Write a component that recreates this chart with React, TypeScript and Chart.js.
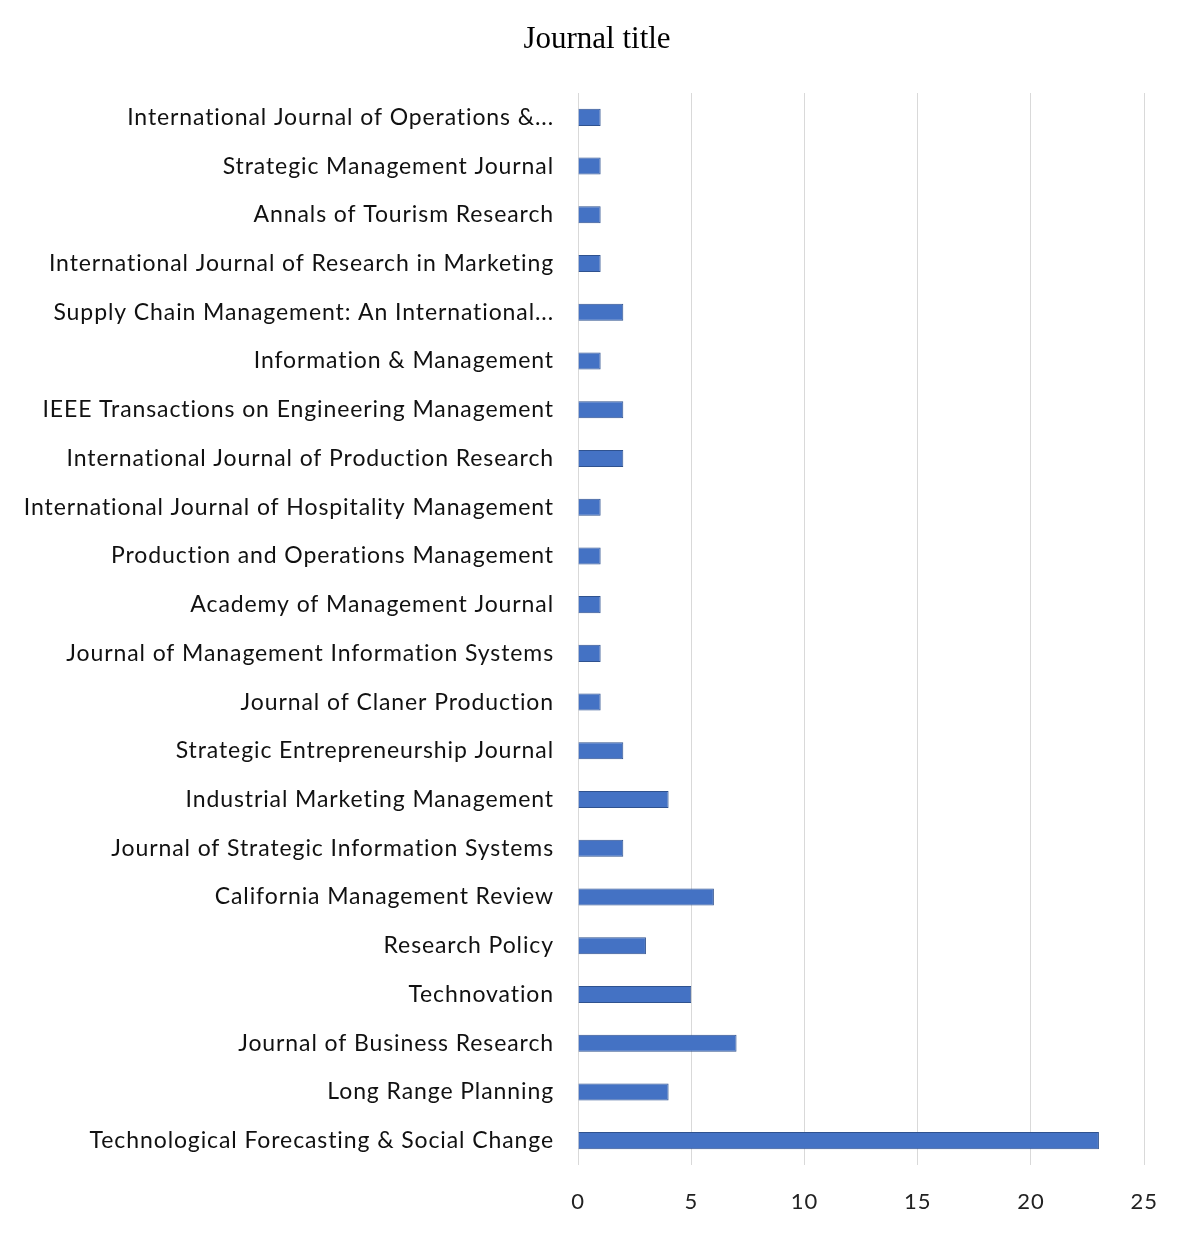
import React, { useEffect, useRef } from "react";
import { Chart, registerables } from "chart.js";

Chart.register(...registerables);

const categories: string[] = [
  "International Journal of Operations &...",
  "Strategic Management Journal",
  "Annals of Tourism Research",
  "International Journal of Research in Marketing",
  "Supply Chain Management: An International...",
  "Information & Management",
  "IEEE Transactions on Engineering Management",
  "International Journal of Production Research",
  "International Journal of Hospitality Management",
  "Production and Operations Management",
  "Academy of Management Journal",
  "Journal of Management Information Systems",
  "Journal of Claner Production",
  "Strategic Entrepreneurship Journal",
  "Industrial Marketing Management",
  "Journal of Strategic Information Systems",
  "California Management Review",
  "Research Policy",
  "Technovation",
  "Journal of Business Research",
  "Long Range Planning",
  "Technological Forecasting & Social Change",
];

const counts: number[] = [1, 1, 1, 1, 2, 1, 2, 2, 1, 1, 1, 1, 1, 2, 4, 2, 6, 3, 5, 7, 4, 23];

const xTicks: number[] = [0, 5, 10, 15, 20, 25];

const chartTitle = "Journal title";

const titlePlugin = {
  id: "customTitle",
  beforeDraw(chart: any) {
    const ctx = chart.ctx;
    (ctx as any).letterSpacing = "0.9px";
  },
  afterDraw(chart: any) {
    const ctx = chart.ctx;
    ctx.save();
    (ctx as any).letterSpacing = "0px";
    ctx.font = "31px 'Liberation Serif', serif";
    ctx.fillStyle = "#000";
    ctx.textAlign = "center";
    ctx.textBaseline = "middle";
    ctx.fillText(chartTitle, 597, 40);
    ctx.restore();
  },
};

export default function App() {
  const ref = useRef<HTMLCanvasElement | null>(null);

  useEffect(() => {
    if (!ref.current) return;
    const chart = new Chart(ref.current, {
      type: "bar",
      data: {
        labels: categories,
        datasets: [
          {
            data: counts,
            backgroundColor: "#4472C4",
            borderColor: "#2F528F",
            borderWidth: 1,
            categoryPercentage: 1,
            barPercentage: 0.35,
          },
        ],
      },
      plugins: [titlePlugin],
      options: {
        indexAxis: "y",
        responsive: false,
        animation: false,
        layout: { padding: { left: 0, right: 36, top: 93, bottom: 0 } },
        plugins: {
          legend: { display: false },
          tooltip: { enabled: false },
          title: { display: false },
        },
        scales: {
          x: {
            min: 0,
            max: 25,
            afterBuildTicks: (scale: any) => {
              scale.ticks = xTicks.map((v) => ({ value: v }));
            },
            afterFit: (scale: any) => {
              scale.height = 74;
            },
            grid: { color: "#d9d9d9", lineWidth: 1, drawTicks: false },
            border: { display: false },
            ticks: {
              color: "#222",
              padding: 24,
              font: { family: "Lato, sans-serif", size: 22 },
            },
          },
          y: {
            afterFit: (scale: any) => {
              scale.width = 578;
            },
            grid: { display: false, drawTicks: false },
            border: { display: false },
            ticks: {
              color: "#111",
              padding: 24,
              autoSkip: false,
              font: { family: "Lato, sans-serif", size: 23 },
            },
          },
        },
      },
    });
    return () => chart.destroy();
  }, []);

  return (
    <div style={{ position: "absolute", left: 0, top: 0, width: 1181, height: 1239, background: "#fff" }}>
      <canvas ref={ref} width={1181} height={1239} style={{ width: 1181, height: 1239, display: "block" }} />
    </div>
  );
}
